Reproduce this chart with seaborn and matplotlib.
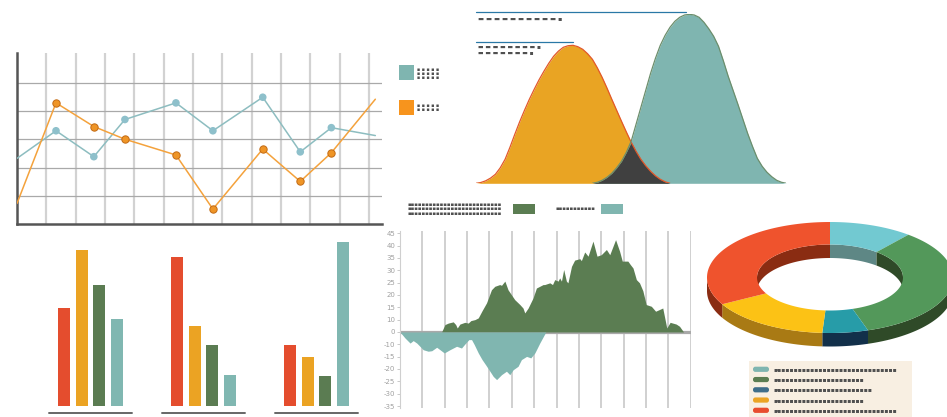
import numpy as np
import pandas as pd
import matplotlib
matplotlib.use('Agg')
import matplotlib.pyplot as plt
import seaborn as sns
from matplotlib.patches import Rectangle, Polygon, FancyBboxPatch

sns.set_theme(style='white')
plt.rcParams['font.family'] = ['DejaVu Sans']

W, H = 947, 417

# --- line chart (top left) ---
line_x = [0, 1.33, 2.62, 3.68, 5.42, 6.68, 8.38, 9.66, 10.72, 12.22]
line_teal = [2.33, 3.31, 2.39, 3.71, 4.30, 3.31, 4.50, 2.56, 3.42, 3.14]
line_orange = [0.73, 4.30, 3.46, 3.01, 2.45, 0.53, 2.66, 1.51, 2.53, 4.43]

# --- two distribution curves (top middle), heights read every ~5 px ---
dist_orange = [0, 0.8, 2.5, 5.2, 9, 15.5, 24, 36, 49, 61.5, 73, 84, 94, 103.5, 112, 120,
               127, 132.2, 136, 137.6, 138, 136.6, 134, 129.6, 124, 115.6, 106, 95.3, 84,
               73, 62, 51.3, 41, 32, 24, 17.5, 12, 7.5, 4, 1.5, 0,
               0, 0, 0, 0, 0, 0, 0, 0, 0, 0, 0, 0, 0, 0, 0, 0, 0, 0, 0, 0, 0, 0, 0, 0]
dist_teal = [0, 0, 0, 0, 0, 0, 0, 0, 0, 0, 0, 0, 0, 0, 0, 0, 0, 0, 0, 0, 0, 0, 0, 0, 0,
             1, 3, 6, 10, 15.5, 22, 31, 42, 59, 76, 93, 110, 125, 138, 148, 156, 162, 166,
             168.3, 169, 168.3, 166, 161, 154.5, 147, 137, 122.5, 107, 93, 79, 64.5, 50, 37,
             25, 17, 11, 6.5, 3, 1, 0]

# --- area chart with positive / negative parts (bottom middle) ---
pos_x = [18.6, 20.1, 21.6, 23.8, 24.9, 25.6, 26.8, 29.0, 30.5, 31.7, 33.5, 35.0, 36.7, 38.7,
         40.9, 42.4, 44.6, 45.4, 46.9, 48.3, 51.3, 53.6, 55.0, 55.8, 57.3, 59.5, 61.0, 64.0,
         64.7, 67.0, 68.2, 69.2, 70.7, 71.4, 72.2, 73.2, 74.4, 75.1, 76.7, 78.1, 80.4, 81.1,
         82.6, 84.1, 86.3, 88.1, 90.0, 92.3, 93.8, 96.4, 98.2, 99.4, 101.9, 103.0, 104.2,
         105.7, 107.1, 108.6, 110.1, 112.4, 114.3, 115.8, 117.5, 119.3, 120.8, 123.5, 125.0, 126.8]
pos_y = [0, 3.0, 3.6, 4.1, 3.0, 1.6, 3.2, 3.9, 3.6, 4.6, 5.0, 5.7, 8.6, 11.8,
         17.1, 18.5, 19.2, 18.9, 20.6, 17.1, 13.1, 11.1, 9.7, 7.7, 9.7, 13.8, 17.8, 19.2,
         19.2, 19.9, 19.2, 21.2, 20.6, 21.9, 20.6, 25.3, 20.6, 19.9, 26.6, 29.1, 29.7, 28.9,
         32.4, 30.7, 36.8, 30.7, 31.3, 33.4, 31.3, 37.4, 32.7, 28.7, 28.7, 27.3, 25.9,
         21.2, 19.9, 16.7, 11.1, 10.4, 8.4, 9.0, 9.7, 1.6, 3.9, 3.2, 2.3, 0]
neg_x = [0, 2.2, 4.5, 5.9, 7.5, 10.4, 12.6, 14.2, 16.4, 17.9, 19.8, 22.3, 25.3, 27.5, 29.0,
         30.8, 32.0, 33.2, 35.0, 36.7, 38.3, 40.2, 41.7, 43.2, 45.4, 47.6, 49.1, 50.6, 52.8,
         54.3, 56.6, 58.5, 60.3, 62.5, 65.2]
neg_y = [0, -2.4, -4.5, -3.5, -4.5, -7.2, -7.8, -7.6, -6.2, -7.2, -8.5, -7.2, -5.8, -6.5, -4.9,
         -3.1, -3.1, -5.1, -8.5, -11.2, -13.3, -15.9, -18.0, -19.3, -17.3, -15.9, -17.3, -15.3,
         -13.9, -11.2, -9.9, -10.5, -8.5, -4.5, 0]
area_ticks = [40, 35, 30, 25, 20, 15, 10, 5, 0, -5, -10, -15, -20, -25, -30]
area_tick_labels = ['45', '40', '35', '30', '25', '20', '15', '10', '0',
                    '-10', '-15', '-20', '-25', '-30', '-35']

# --- grouped bars (bottom left) ---
bar_groups = ['G1', 'G2', 'G3']
bar_red = [60, 91, 37]
bar_yellow = [95, 49, 30]
bar_green = [74, 37, 18]
bar_teal = [53, 19, 100]

# --- 3d donut (right) ---
donut_values = [11, 34, 6, 16, 33]
donut_top = ['#72c9d1', '#53985a', '#279ca8', '#fcc215', '#ef532d']
donut_side = ['#5e8785', '#2f4a28', '#12304a', '#a97a14', '#8a2c12']
legend_colors = ['#7fb5b0', '#5b7d52', '#3f6e8a', '#eba424', '#e84c2e']
legend_lengths = [30, 22, 24, 22, 30]

fig = plt.figure(figsize=(W / 100, H / 100), dpi=100)


def px_axes(x0, y0, x1, y1, **kw):
    return fig.add_axes([x0 / W, 1 - y1 / H, (x1 - x0) / W, (y1 - y0) / H], **kw)


# overlay in pixel units for the decorations
ax0 = px_axes(0, 0, W, H)
ax0.set_xlim(0, W)
ax0.set_ylim(H, 0)
ax0.axis('off')

GREY_TXT = '#505050'


def greek(x, y, n, size=4.2, ch='\u25aa', tail=''):
    ax0.text(x, y, ch * n + tail, fontsize=size, color=GREY_TXT, va='center', ha='left')


# ---------- line chart ----------
ax1 = px_axes(17, 53.3, 381.5, 224)
ax1.set_xlim(0, 12.43)
ax1.set_ylim(0, 6.06)
ax1.set_xticks(range(1, 13))
ax1.set_yticks(range(1, 6))
ax1.tick_params(length=0, labelbottom=False, labelleft=False)
ax1.grid(axis='x', color='#d2d2d2', lw=1.6)
ax1.grid(axis='y', color='#a9a9a9', lw=0.9)
for s in ['top', 'right']:
    ax1.spines[s].set_visible(False)
for s in ['left', 'bottom']:
    ax1.spines[s].set_color('#555555')
    ax1.spines[s].set_linewidth(1.8)
sns.lineplot(x=line_x, y=line_teal, ax=ax1, color='#8dbdc0', lw=1.1, sort=False, zorder=3)
sns.lineplot(x=line_x, y=line_orange, ax=ax1, color='#f4a23c', lw=1.1, sort=False, zorder=3)
sns.scatterplot(x=line_x[1:-1], y=line_teal[1:-1], ax=ax1, color='#8ec0cb', s=30,
                edgecolor='none', zorder=4)
sns.scatterplot(x=line_x[1:-1], y=line_orange[1:-1], ax=ax1, color='#ef9526', s=28,
                edgecolor='#c26a14', linewidth=0.7, zorder=4)

# ---------- distributions ----------
ax2 = px_axes(476, 14.3, 786.4, 183.3)
dx = np.arange(len(dist_orange))
o = np.array(dist_orange, float)
t = np.array(dist_teal, float)
ax2.fill_between(dx, o, color='#e9a423', lw=0)
ax2.fill_between(dx, t, color='#7fb5b0', lw=0)
ax2.fill_between(dx, np.minimum(o, t), color='#404040', lw=0)
on = np.nonzero(o)[0]
tn = np.nonzero(t)[0]
oi = slice(max(on[0] - 1, 0), on[-1] + 2)
ti = slice(tn[0] - 1, min(tn[-1] + 2, len(t)))
ax2.plot(dx[oi], o[oi], color='#e2582a', lw=0.9)
ax2.plot(dx[ti], t[ti], color='#6c8e6c', lw=0.9)
ax2.set_xlim(0, len(dx) - 1)
ax2.set_ylim(0, 169)
ax2.axis('off')

ax0.plot([476, 686], [12.3, 12.3], color='#2a78a6', lw=0.9)
ax0.plot([476, 572.7], [42.3, 42.3], color='#2a78a6', lw=0.9)
greek(478, 19, 10, size=4.6, ch='\u25ac ', tail='\u25aa')
greek(478, 47, 8, size=4.2, ch='\u25ac ', tail='\u25aa')
greek(478, 53, 7, size=4.2, ch='\u25ac ', tail='\u25aa')
ax0.add_patch(Rectangle((399, 65), 15, 15, color='#7fb5b0', lw=0))
ax0.add_patch(Rectangle((399, 100), 15, 15, color='#f7941d', lw=0))
for yy in [69, 73.2, 77.4]:
    greek(417, yy, 5, size=3.4, ch='\u25aa ')
for yy in [105.5, 109.5]:
    greek(417, yy, 5, size=3.4, ch='\u25aa ')
for yy in [204, 208.8, 213.6]:
    greek(408, yy, 26, size=3.9)
greek(556, 208.8, 11, size=3.9)
ax0.add_patch(Rectangle((513, 204), 22, 10, color='#5b7d52', lw=0))
ax0.add_patch(Rectangle((601, 204), 22, 10, color='#80b6b0', lw=0))

# ---------- area chart ----------
ax3 = px_axes(400, 231, 690.7, 408)
ax3.set_xlim(0, 130)
ax3.set_ylim(-30.8, 40.9)
ax3.axhline(0, color='#a9a9a9', lw=2.3, zorder=1)
ax3.fill_between(pos_x, pos_y, 0, color='#5b7d52', lw=0, zorder=2)
ax3.fill_between(neg_x, neg_y, 0, color='#80b6b0', lw=0, zorder=2)
ax3.set_xticks(range(10, 131, 10))
ax3.set_xticklabels([])
ax3.grid(axis='x', color='#cdcdcd', lw=1.3)
ax3.set_axisbelow(True)
ax3.set_yticks(area_ticks)
ax3.set_yticklabels(area_tick_labels)
ax3.tick_params(axis='y', length=2.5, width=0.6, color='#c0c0c0', labelsize=5,
                labelcolor='#a0a0a0', pad=1, left=True)
ax3.tick_params(axis='x', length=0)
for s in ['top', 'right', 'bottom']:
    ax3.spines[s].set_visible(False)
ax3.spines['left'].set_color('#cfcfcf')
ax3.spines['left'].set_linewidth(0.8)

# ---------- grouped bars ----------
ax5 = px_axes(34, 242, 373, 406)
bars = pd.DataFrame({
    'group': bar_groups * 4,
    'series': ['red'] * 3 + ['yellow'] * 3 + ['green'] * 3 + ['teal'] * 3,
    'value': bar_red + bar_yellow + bar_green + bar_teal,
})
sns.barplot(data=bars, x='group', y='value', hue='series', ax=ax5, width=0.627, gap=0.32,
            palette=['#e44d2e', '#eba323', '#5b7c52', '#80b7b1'], saturation=1,
            linewidth=0, legend=False)
ax5.set_xlim(-0.5, 2.5)
ax5.set_ylim(0, 100)
for i in range(len(bar_groups)):
    ax5.plot([i - 0.367, i + 0.367], [-4.4, -4.4], color='#666666', lw=1.4, clip_on=False)
ax5.axis('off')

# ---------- 3d donut ----------
ax4 = px_axes(700, 215, 947, 360)
ax4.set_xlim(-130, 117)
ax4.set_ylim(-82.5, 62.5)
ax4.axis('off')
A, B, AI, BI, DEPTH = 123, 55.5, 73, 33, 13.5


def arc(a, b, t1, t2, dy=0.0, n=80):
    tt = np.linspace(t1, t2, n)
    return np.column_stack([a * np.cos(tt), b * np.sin(tt) + dy])


def overlap(lo, hi, vlo, vhi):
    out = []
    for k in (-2, -1, 0, 1):
        a0 = max(lo, vlo + 2 * np.pi * k)
        a1 = min(hi, vhi + 2 * np.pi * k)
        if a1 > a0:
            out.append((a0, a1))
    return out


cum = np.concatenate([[0], np.cumsum(donut_values)]) / sum(donut_values)
for i in range(len(donut_values)):
    t_hi = np.pi / 2 - 2 * np.pi * cum[i]
    t_lo = np.pi / 2 - 2 * np.pi * cum[i + 1]
    # outer wall (front half)
    for a0, a1 in overlap(t_lo, t_hi, -np.pi, 0):
        pts = np.vstack([arc(A, B, a0, a1), arc(A, B, a1, a0, -DEPTH)])
        ax4.add_patch(Polygon(pts, closed=True, color=donut_side[i], lw=0, zorder=1))
    # inner wall (back half, seen through the hole)
    for a0, a1 in overlap(t_lo, t_hi, 0, np.pi):
        pts = np.vstack([arc(AI, BI, a0, a1), arc(AI, BI, a1, a0, -DEPTH)])
        ax4.add_patch(Polygon(pts, closed=True, color=donut_side[i], lw=0, zorder=1))
    top = np.vstack([arc(A, B, t_hi, t_lo), arc(AI, BI, t_lo, t_hi)])
    ax4.add_patch(Polygon(top, closed=True, color=donut_top[i], lw=0, zorder=2))

ax0.add_patch(Rectangle((749, 361), 163, 57, color='#f8efe2', lw=0))
for k, (c, n) in enumerate(zip(legend_colors, legend_lengths)):
    yy = 369.3 + k * 10.25
    ax0.add_patch(FancyBboxPatch((753, yy - 2.6), 16, 5.2, boxstyle='round,pad=0,rounding_size=2.4',
                                 color=c, lw=0))
    greek(773, yy, n, size=4.3)

fig.savefig('out.png', dpi=100)
